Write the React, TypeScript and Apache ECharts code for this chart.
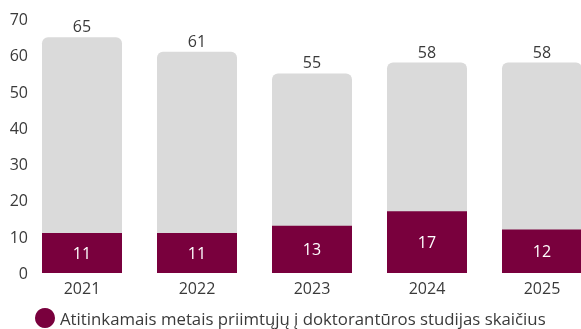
import React, { useEffect, useRef } from "react";
import * as echarts from "echarts";

const categories = ["2021", "2022", "2023", "2024", "2025"];
const totals = [65, 61, 55, 58, 58];
const admitted = [11, 11, 13, 17, 12];
const legendName = "Atitinkamais metais priimtųjų į doktorantūros studijas skaičius";

const FONT = "'Open Sans', 'Noto Sans', sans-serif";

export default function App() {
  const ref = useRef<HTMLDivElement>(null);
  useEffect(() => {
    if (!ref.current) return;
    const chart = echarts.init(ref.current, undefined, { renderer: "svg" });
    chart.setOption({
      animation: false,
      textStyle: { fontFamily: FONT },
      grid: {
        left: 24.5,
        width: 575,
        top: 19,
        height: 254,
        outerBoundsMode: "none",
        containLabel: false,
      },
      legend: {
        data: [legendName],
        left: 35,
        top: 308,
        padding: 0,
        icon: "circle",
        itemWidth: 20,
        itemHeight: 20,
        itemGap: 5,
        textStyle: { fontSize: 16.8, color: "#3a3a3a", fontFamily: FONT },
      },
      xAxis: {
        type: "category",
        data: categories,
        axisLine: { show: false },
        axisTick: { show: false },
        axisLabel: { fontSize: 16, color: "#3a3a3a", margin: 7, fontFamily: FONT },
      },
      yAxis: {
        type: "value",
        min: 0,
        max: 70,
        interval: 10,
        splitLine: { show: false },
        axisLine: { show: false },
        axisTick: { show: false },
        axisLabel: { fontSize: 16, color: "#3a3a3a", margin: -3.5, fontFamily: FONT },
      },
      series: [
        {
          name: "Total",
          type: "bar",
          data: totals,
          barWidth: 80,
          barGap: "-100%",
          itemStyle: { color: "#dadada", borderRadius: [6, 6, 0, 0] },
          label: {
            show: true,
            position: "top",
            distance: 3,
            fontSize: 16,
            color: "#3a3a3a",
            fontFamily: FONT,
          },
          z: 1,
        },
        {
          name: legendName,
          type: "bar",
          data: admitted,
          barWidth: 80,
          itemStyle: { color: "#79003d" },
          label: {
            show: true,
            position: "inside",
            fontSize: 16,
            color: "#ffffff",
            fontFamily: FONT,
          },
          z: 2,
        },
      ],
    });
    return () => chart.dispose();
  }, []);
  return (
    <div
      ref={ref}
      style={{ position: "fixed", left: 0, top: 0, width: 581, height: 329 }}
    />
  );
}
